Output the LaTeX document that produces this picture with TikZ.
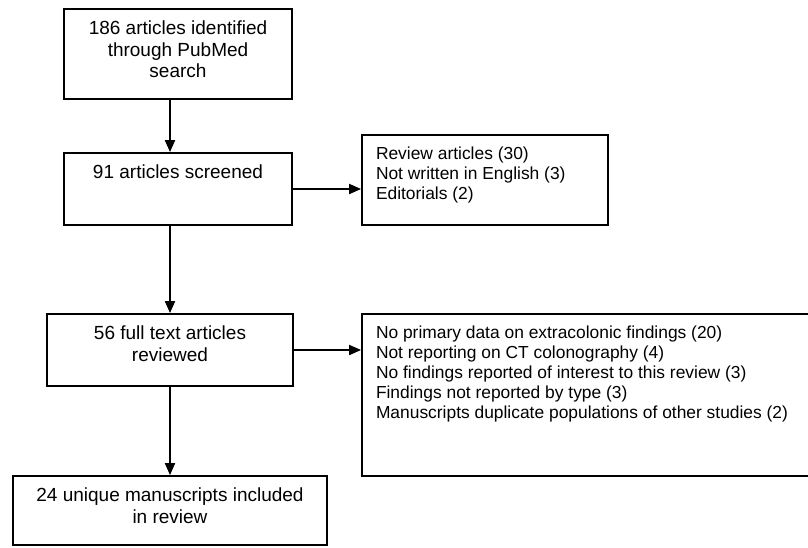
\documentclass[tikz,border=0pt]{standalone}
\usepackage{fontspec}
\setmainfont{Liberation Sans}
\usetikzlibrary{arrows.meta, calc}

\begin{document}
\begin{tikzpicture}[x=1pt, y=-1pt, >={Triangle[length=12pt, width=10pt]}, line width=1.8pt,
  box/.style={draw, inner sep=0pt},
  midtext/.style={anchor=north, yshift=-12pt, align=center, inner sep=0pt, font=\fontsize{19}{21.5}\selectfont},
  sidetext/.style={anchor=north west, xshift=14pt, yshift=-11.5pt, align=left, inner sep=0pt, font=\fontsize{17.4}{20}\selectfont}]
  \useasboundingbox (0,0) rectangle (808,547);
  \node[box, minimum width=228pt, minimum height=90pt, label={[midtext]north:{186 articles identified\\through PubMed\\search}}] (ident) at (178,54) {};
  \node[box, minimum width=228pt, minimum height=72pt, label={[midtext]north:{91 articles screened}}] (screened) at (178,189) {};
  \node[box, minimum width=246pt, minimum height=90pt, label={[sidetext]north west:{Review articles (30)\\Not written in English (3)\\Editorials (2)}}] (excl1) at (485,180) {};
  \node[box, minimum width=246pt, minimum height=72pt, label={[midtext]north:{56 full text articles\\reviewed}}] (fulltext) at (170,350) {};
  \node[box, minimum width=450pt, minimum height=162pt, label={[sidetext]north west:{No primary data on extracolonic findings (20)\\Not reporting on CT colonography (4)\\No findings reported of interest to this review (3)\\Findings not reported by type (3)\\Manuscripts duplicate populations of other studies (2)}}] (excl2) at (587,395) {};
  \node[box, minimum width=314pt, minimum height=69pt, label={[midtext]north:{24 unique manuscripts included\\in review}}] (incl) at (170,510.5) {};
  \draw[->] (ident.south -| fulltext.north) -- (screened.north -| fulltext.north);
  \draw[->] (screened.east) -- (excl1.west |- screened.east);
  \draw[->] (screened.south -| fulltext.north) -- (fulltext.north);
  \draw[->] (fulltext.east) -- (excl2.west |- fulltext.east);
  \draw[->] (fulltext.south) -- (incl.north);
\end{tikzpicture}
\end{document}
